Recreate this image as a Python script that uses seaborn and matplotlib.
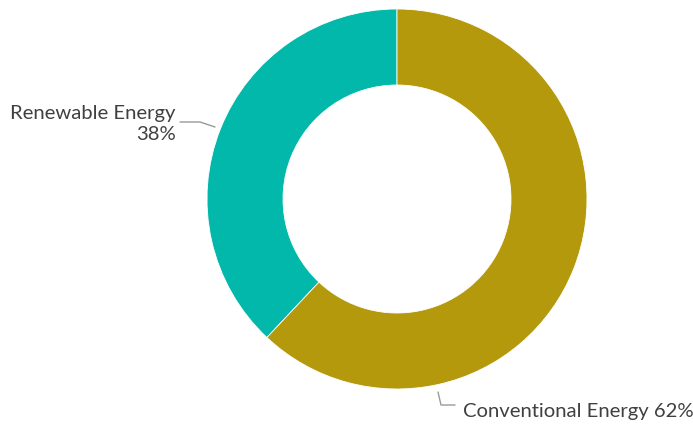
import matplotlib
matplotlib.use("Agg")
import matplotlib.pyplot as plt
import seaborn as sns

# Data
labels = ["Renewable Energy", "Conventional Energy"]
shares = [38, 62]
colors = ["#01B8AA", "#B5990D"]

sns.set_theme(style="white")
plt.rcParams["font.family"] = ["Lato", "DejaVu Sans"]

W, H = 693, 424
fig = plt.figure(figsize=(W / 100, H / 100), dpi=100)
ax = fig.add_axes([0, 0, 1, 1])

# donut, starting at the top, renewable going counterclockwise
ax.pie(
    shares,
    colors=colors,
    startangle=90,
    counterclock=True,
    center=(397, H - 199),
    radius=190,
    wedgeprops=dict(width=76, edgecolor="white", linewidth=0.6),
)
ax.set_xlim(0, W)
ax.set_ylim(0, H)
ax.set_aspect("equal")
ax.axis("off")

txt_color = "#404040"
line_color = "#9a9a9a"

# Renewable label with leader line
ax.plot([180, 200, 215], [H - 122, H - 122, H - 127], color=line_color, lw=1)
ax.text(176, H - 124, f"{labels[0]}\n{shares[0]}%", ha="right", va="center",
        multialignment="right", fontsize=14.6, color=txt_color, linespacing=1.25)

# Conventional label with leader line
ax.plot([438, 441, 455], [H - 392, H - 405, H - 405], color=line_color, lw=1)
ax.text(463, H - 411, f"{labels[1]} {shares[1]}%", ha="left", va="center",
        fontsize=14.6, color=txt_color)

fig.savefig("out.png", dpi=100)
